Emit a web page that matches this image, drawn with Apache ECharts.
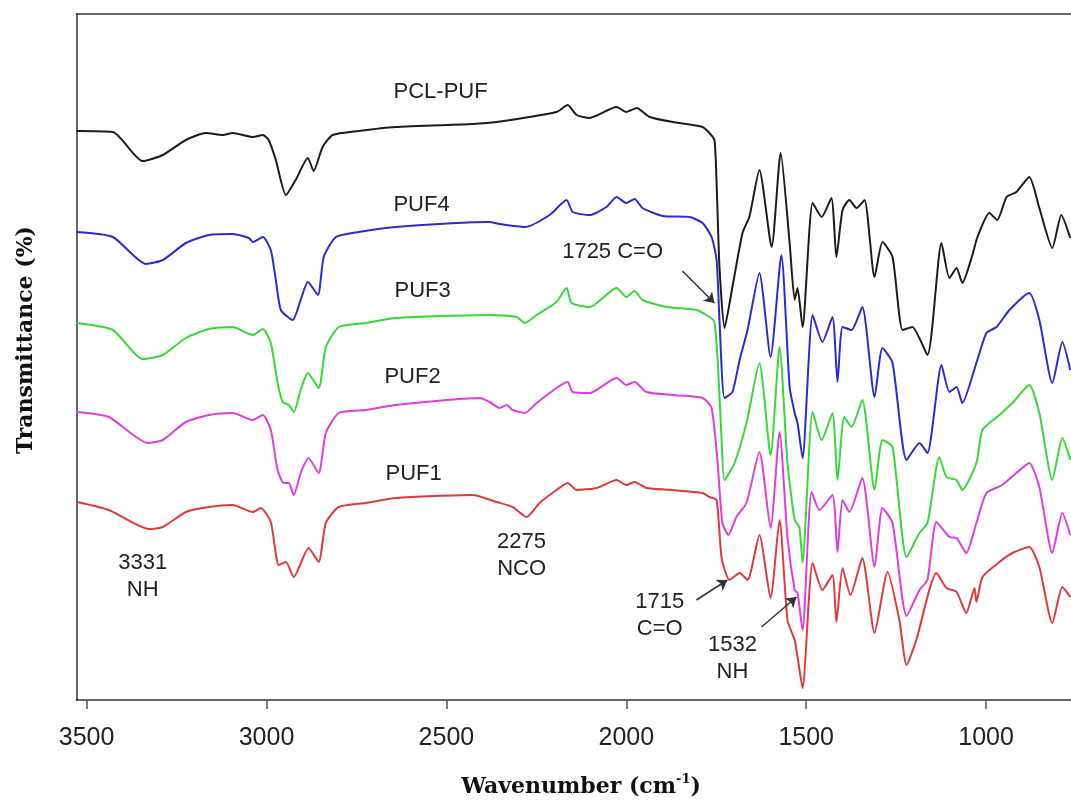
<!DOCTYPE html>
<html>
<head>
<meta charset="utf-8">
<title>FTIR spectra</title>
<script src="https://cdn.jsdelivr.net/npm/echarts@6/dist/echarts.min.js"></script>
<style>
  html, body { margin: 0; padding: 0; background: #fff; }
  #chart { width: 1071px; height: 800px; }
</style>
</head>
<body>
<div id="chart"></div>
<script>
// wavenumber (cm-1) and offset transmittance (arbitrary units)
const pclWn = [3528, 3427, 3344, 3288, 3224, 3169, 3121, 3094, 3038, 3010, 2994, 2974, 2946, 2919, 2885, 2869, 2844, 2816, 2744, 2641, 2427, 2360, 2194, 2163, 2138, 2102, 2027, 2000, 1971, 1935, 1871, 1788, 1769, 1755, 1749, 1741, 1727, 1705, 1677, 1658, 1630, 1596, 1571, 1546, 1532, 1524, 1510, 1482, 1457, 1430, 1416, 1399, 1380, 1360, 1338, 1310, 1288, 1260, 1232, 1205, 1163, 1124, 1102, 1082, 1066, 1038, 1024, 991, 969, 943, 916, 880, 852, 816, 791, 766];
const pclT = [56.9, 56.8, 53.9, 54.5, 56.0, 56.7, 56.5, 56.7, 56.3, 56.5, 56.0, 54.0, 50.5, 52.0, 54.2, 52.9, 55.3, 56.5, 56.9, 57.3, 57.6, 57.8, 58.8, 59.5, 58.5, 58.2, 59.3, 58.8, 59.2, 58.3, 57.8, 57.3, 56.7, 56.0, 51.7, 43.3, 37.2, 41.3, 46.7, 48.3, 53.0, 45.3, 54.7, 45.7, 40.0, 41.2, 37.3, 49.7, 48.3, 50.2, 44.3, 49.0, 50.0, 49.2, 50.0, 42.3, 45.8, 44.3, 37.0, 37.3, 34.5, 45.7, 42.2, 43.2, 41.7, 44.5, 46.3, 48.7, 48.0, 50.3, 50.8, 52.3, 49.2, 45.2, 48.5, 46.2];

const puf4Wn = [3528, 3427, 3335, 3288, 3224, 3160, 3094, 3049, 3038, 3010, 2988, 2974, 2960, 2927, 2905, 2885, 2857, 2841, 2807, 2744, 2641, 2380, 2352, 2282, 2213, 2166, 2149, 2102, 2055, 2027, 2000, 1977, 1955, 1899, 1824, 1788, 1763, 1749, 1741, 1727, 1705, 1685, 1663, 1630, 1599, 1569, 1546, 1532, 1524, 1510, 1482, 1455, 1427, 1413, 1399, 1374, 1344, 1310, 1288, 1260, 1221, 1185, 1163, 1124, 1102, 1082, 1066, 1027, 999, 971, 935, 880, 852, 816, 788, 766];
const puf4T = [46.8, 46.3, 43.6, 44.0, 45.7, 46.5, 46.6, 46.2, 45.8, 46.3, 45.0, 42.0, 39.0, 38.0, 40.0, 41.8, 40.5, 44.3, 46.3, 46.8, 47.3, 47.8, 47.6, 47.3, 48.5, 50.0, 48.8, 48.5, 49.3, 50.3, 49.7, 50.1, 49.2, 48.4, 48.3, 47.7, 46.3, 44.0, 38.0, 30.2, 30.8, 34.0, 37.0, 42.7, 34.3, 44.5, 31.3, 28.7, 27.7, 24.2, 38.5, 35.8, 38.3, 31.8, 37.3, 37.0, 39.3, 30.3, 35.2, 33.7, 24.0, 25.7, 24.7, 33.5, 30.8, 31.3, 29.7, 33.7, 36.7, 37.3, 39.0, 40.7, 38.0, 31.7, 35.8, 33.0];

const puf3Wn = [3528, 3427, 3344, 3288, 3224, 3160, 3094, 3038, 3010, 2988, 2969, 2955, 2938, 2924, 2905, 2885, 2855, 2835, 2799, 2724, 2641, 2380, 2305, 2282, 2249, 2194, 2166, 2152, 2102, 2027, 2000, 1977, 1955, 1888, 1805, 1769, 1755, 1746, 1735, 1727, 1699, 1666, 1630, 1599, 1574, 1552, 1532, 1519, 1510, 1482, 1457, 1427, 1413, 1394, 1374, 1344, 1310, 1288, 1260, 1221, 1185, 1163, 1130, 1110, 1082, 1066, 1027, 1010, 963, 927, 880, 852, 816, 788, 766];
const puf3T = [37.7, 37.0, 34.1, 34.5, 36.2, 37.1, 37.3, 36.5, 37.1, 35.7, 31.7, 29.8, 29.5, 28.8, 31.0, 32.7, 31.2, 35.3, 37.3, 37.7, 38.2, 38.5, 38.3, 37.7, 38.5, 39.8, 41.2, 39.7, 39.3, 41.2, 40.3, 40.9, 40.0, 39.3, 39.0, 38.3, 37.8, 34.0, 26.0, 22.0, 23.7, 27.7, 33.7, 24.5, 35.3, 23.7, 18.0, 17.3, 13.7, 28.8, 26.0, 28.7, 22.0, 28.3, 27.3, 30.0, 21.0, 26.0, 25.3, 14.3, 16.7, 17.7, 24.3, 22.3, 22.0, 21.0, 23.7, 27.0, 28.5, 29.7, 31.5, 28.7, 22.0, 26.2, 24.0];

const puf2Wn = [3528, 3438, 3330, 3288, 3224, 3160, 3094, 3038, 3010, 2988, 2969, 2952, 2938, 2924, 2905, 2883, 2855, 2835, 2799, 2724, 2641, 2407, 2380, 2352, 2332, 2316, 2282, 2249, 2194, 2163, 2149, 2102, 2027, 2000, 1977, 1944, 1871, 1788, 1763, 1746, 1733, 1716, 1694, 1666, 1630, 1599, 1574, 1552, 1532, 1524, 1510, 1485, 1463, 1427, 1413, 1399, 1380, 1344, 1310, 1288, 1260, 1221, 1185, 1163, 1138, 1102, 1082, 1055, 1027, 999, 955, 916, 880, 852, 816, 788, 766];
const puf2T = [28.8, 28.3, 25.7, 26.0, 27.8, 28.5, 28.7, 28.0, 28.5, 27.0, 23.0, 21.7, 21.7, 20.5, 22.7, 24.2, 22.7, 26.7, 28.7, 29.0, 29.5, 30.2, 29.8, 29.2, 29.5, 29.0, 28.7, 29.7, 31.2, 31.8, 30.8, 30.7, 32.2, 31.5, 31.8, 30.8, 30.5, 30.2, 29.2, 23.7, 17.7, 16.5, 18.3, 19.7, 24.8, 17.2, 26.8, 16.3, 11.0, 10.7, 7.0, 20.8, 19.0, 20.5, 14.8, 20.0, 18.8, 22.2, 13.3, 19.2, 17.7, 8.4, 11.0, 12.0, 17.8, 16.3, 16.2, 14.7, 17.7, 20.7, 21.5, 22.7, 23.7, 21.3, 14.7, 18.7, 16.5];

const puf1Wn = [3528, 3438, 3327, 3288, 3224, 3160, 3094, 3038, 3016, 2988, 2966, 2946, 2924, 2883, 2855, 2835, 2799, 2724, 2641, 2427, 2360, 2316, 2277, 2241, 2194, 2163, 2138, 2082, 2027, 2000, 1977, 1944, 1871, 1788, 1769, 1749, 1735, 1713, 1685, 1663, 1630, 1599, 1574, 1552, 1532, 1524, 1510, 1482, 1455, 1427, 1416, 1399, 1377, 1344, 1310, 1274, 1241, 1221, 1194, 1138, 1110, 1082, 1055, 1032, 1027, 1010, 963, 927, 880, 852, 816, 788, 766];
const puf1T = [19.8, 19.0, 17.1, 17.3, 18.8, 19.3, 19.5, 18.8, 19.2, 17.8, 13.5, 13.8, 12.3, 15.2, 13.8, 17.7, 19.3, 19.7, 20.2, 20.5, 19.8, 19.3, 18.3, 19.7, 21.0, 21.7, 21.0, 21.2, 22.0, 21.5, 21.8, 21.2, 21.0, 20.7, 20.3, 20.0, 14.2, 12.0, 12.7, 12.0, 16.5, 10.2, 18.0, 8.0, 6.0, 4.3, 1.2, 13.7, 11.0, 12.5, 7.8, 13.2, 10.5, 14.2, 6.7, 12.8, 8.0, 3.5, 6.0, 12.7, 11.2, 10.8, 8.7, 11.2, 9.8, 12.3, 13.8, 14.7, 15.3, 13.3, 7.7, 11.3, 10.3];

const seriesNames = ['PCL-PUF', 'PUF4', 'PUF3', 'PUF2', 'PUF1'];
const seriesColors = ['#1c1c1c', '#2a2ad8', '#36d936', '#e03ce0', '#e03a3a'];
const xTicks = [3500, 3000, 2500, 2000, 1500, 1000];

// curve labels and band annotations, placed in data units [wavenumber, transmittance]
const curveLabels = [
  { text: 'PCL-PUF', at: [2516, 60.8] },
  { text: 'PUF4', at: [2569, 49.5] },
  { text: 'PUF3', at: [2566, 40.9] },
  { text: 'PUF2', at: [2594, 32.3] },
  { text: 'PUF1', at: [2591, 22.6] },
  { text: '1725 C=O', at: [2038, 44.8] },
  { text: '3331\nNH', at: [3344, 12.4] },
  { text: '2275\nNCO', at: [2291, 14.5] },
  { text: '1715\nC=O', at: [1907, 8.5] },
  { text: '1532\nNH', at: [1705, 4.2] }
];
const arrows = [
  [[1844, 42.9], [1755, 39.7]],
  [[1805, 10.0], [1719, 12.0]],
  [[1624, 7.3], [1527, 10.3]]
];

const pairs = (wn, t) => wn.map((w, i) => [w, t[i]]);
const allData = [
  pairs(pclWn, pclT),
  pairs(puf4Wn, puf4T),
  pairs(puf3Wn, puf3T),
  pairs(puf2Wn, puf2T),
  pairs(puf1Wn, puf1T)
];

const chart = echarts.init(document.getElementById('chart'));

const axisColor = '#333';

const series = allData.map((d, i) => ({
  name: seriesNames[i],
  type: 'line',
  data: d,
  showSymbol: false,
  smooth: 0.2,
  lineStyle: { color: seriesColors[i], width: 2 },
  itemStyle: { color: seriesColors[i] },
  z: 5 - i
}));

series[0].markLine = {
  silent: true,
  animation: false,
  symbol: ['none', 'arrow'],
  symbolSize: 10,
  label: { show: false },
  lineStyle: { color: '#333', width: 1.5, type: 'solid' },
  data: arrows.map(a => [{ coord: a[0] }, { coord: a[1] }])
};

chart.setOption({
  animation: false,
  grid: { left: 76.5, right: 0, top: 14, bottom: 100 },
  xAxis: [{
    type: 'value',
    inverse: true,
    min: 764,
    max: 3528,
    axisLine: { show: true, onZero: false, lineStyle: { color: axisColor, width: 1.5 } },
    axisTick: { show: true, customValues: xTicks, length: 9, lineStyle: { color: '#555', width: 1.5 } },
    axisLabel: {
      customValues: xTicks,
      formatter: v => String(v),
      color: '#222',
      fontSize: 25,
      fontFamily: 'Liberation Sans',
      margin: 26
    },
    splitLine: { show: false }
  }, {
    type: 'value',
    position: 'top',
    inverse: true,
    min: 764,
    max: 3528,
    axisLine: { show: true, onZero: false, lineStyle: { color: axisColor, width: 1.5 } },
    axisTick: { show: false },
    axisLabel: { show: false },
    splitLine: { show: false }
  }],
  yAxis: {
    type: 'value',
    min: 0,
    max: 68.6,
    axisLine: { show: true, onZero: false, lineStyle: { color: axisColor, width: 1.5 } },
    axisTick: { show: false },
    axisLabel: { show: false },
    splitLine: { show: false }
  },
  series: series
});

// text elements positioned through the chart's own scales
const graphics = curveLabels.map(l => {
  const p = chart.convertToPixel({ seriesIndex: 0 }, l.at);
  return {
    type: 'text',
    silent: true,
    style: {
      text: l.text,
      x: p[0],
      y: p[1],
      fill: '#222',
      fontSize: 22,
      fontFamily: 'Liberation Sans',
      lineHeight: 27,
      align: 'center',
      verticalAlign: 'middle'
    }
  };
});

graphics.push({
  type: 'text',
  silent: true,
  x: 26,
  y: 340,
  rotation: Math.PI / 2,
  style: {
    text: 'Transmittance (%)',
    fill: '#111',
    fontSize: 22,
    fontWeight: 'bold',
    fontFamily: 'DejaVu Serif',
    align: 'center',
    verticalAlign: 'middle'
  }
});

graphics.push({
  type: 'text',
  silent: true,
  x: 581,
  y: 787,
  style: {
    text: '{a|Wavenumber (cm}{s|-1}{a|)}',
    align: 'center',
    verticalAlign: 'middle',
    rich: {
      a: { fontSize: 22, fontWeight: 'bold', fontFamily: 'DejaVu Serif', fill: '#111', lineHeight: 28 },
      s: { fontSize: 13, fontWeight: 'bold', fontFamily: 'DejaVu Serif', fill: '#111', verticalAlign: 'top', lineHeight: 28 }
    }
  }
});

chart.setOption({ graphic: graphics });
</script>
</body>
</html>
